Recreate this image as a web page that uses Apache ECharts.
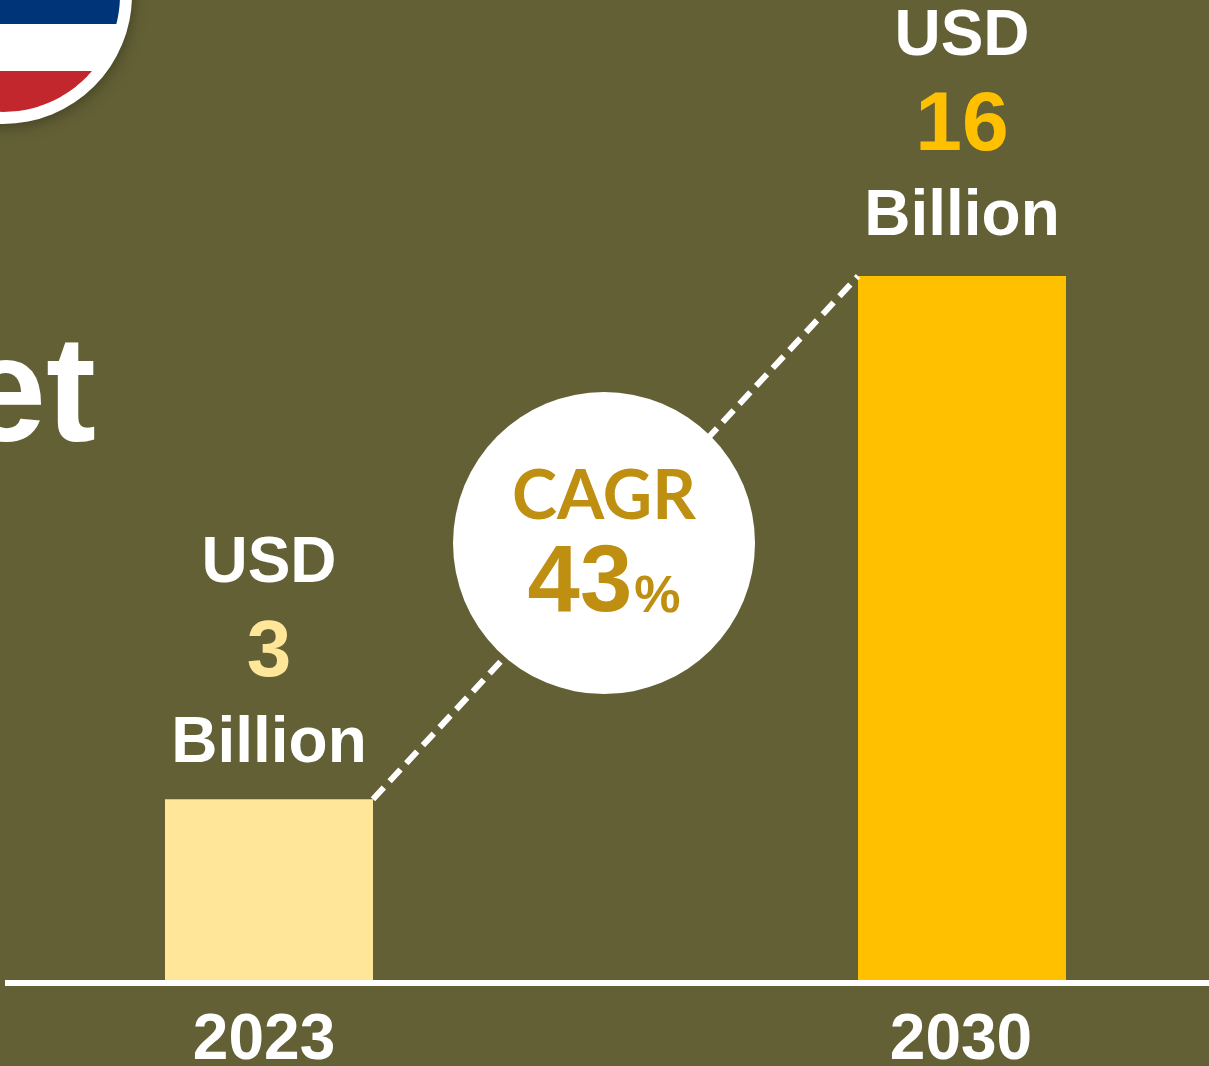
<!DOCTYPE html>
<html><head><meta charset="utf-8">
<style>html,body{margin:0;padding:0;background:#636036;overflow:hidden}#c{width:1209px;height:1066px}</style>
<script src="https://cdn.jsdelivr.net/npm/echarts@6/dist/echarts.min.js"></script>
</head><body><div id="c"></div>
<script>
const years = [2023, 2030];
const yearLabelSpots = [2022.95, 2029.99];
const shownValues = [3, 16];          // values printed on the chart (USD billion)
const barHeights = [4.16, 16];        // heights as drawn: the picture is not to scale
const barColors = ['#FFE699', '#FFC000'];
const connectorX = [2024.05, 2028.95];
const cagrText = ['CAGR', '43', '%'];
const cagrPoint = [2026.384, 9.957];
const titleFragment = 'Market';

const FONT = '"Liberation Sans", Arial, sans-serif';
const BG = '#636036', GOLD = '#BF8F12';

// circular-segment outline for the flag badge
function band(cx, cy, r, y0, y1) {
  const pts = [];
  const side = (y, s) => [cx + s * Math.sqrt(Math.max(r*r - (y-cy)*(y-cy), 0)), y];
  for (let i = 0; i <= 40; i++) pts.push(side(y0 + (y1-y0)*i/40, 1));
  for (let i = 40; i >= 0; i--) pts.push(side(y0 + (y1-y0)*i/40, -1));
  return pts;
}

const chart = echarts.init(document.getElementById('c'), null, {renderer:'canvas', width:1209, height:1066});
chart.setOption({
  animation:false,
  backgroundColor:BG,
  grid:{left:5, right:0, top:0, height:983, outerBoundsMode:'none'},
  xAxis:{type:'value', z:3, min:2020.3333, max:2032.495, splitLine:{show:false},
    axisLine:{show:true, onZero:false, lineStyle:{color:'#fff', width:6, cap:'butt'}},
    axisTick:{show:false},
    axisLabel:{customValues:yearLabelSpots, formatter:v=>String(Math.round(v)), color:'#fff', fontFamily:FONT, fontWeight:'bold', fontSize:64, margin:26, lineHeight:64, hideOverlap:false}},
  yAxis:{type:'value', min:0, max:22.25, show:false, splitLine:{show:false}},
  graphic:[
    {type:'text', z:5, style:{x:96, y:475, text:titleFragment, align:'right', verticalAlign:'bottom', fill:'#fff', font:'bold 150px '+FONT}},
    {type:'circle', z:6, shape:{cx:3, cy:-5, r:129}, style:{fill:'#fff', shadowBlur:14, shadowColor:'rgba(40,40,20,0.5)', shadowOffsetX:1, shadowOffsetY:3}},
    {type:'polygon', z:7, shape:{points:band(3,-5,117,-122,24)}, style:{fill:'#003478'}},
    {type:'polygon', z:7, shape:{points:band(3,-5,117,71,112)}, style:{fill:'#C1272D'}}
  ],
  series:[
    {type:'bar', barWidth:208, z:2,
     data:years.map((y,i)=>({value:[y,barHeights[i]], itemStyle:{color:barColors[i]},
       label:{show:true, position:'top', distance:i?20:16, align:'center',
         formatter:`{u|USD}\n{v|${shownValues[i]}}\n{u|Billion}`,
         rich:{
           u:{color:'#fff', fontFamily:FONT, fontWeight:'bold', fontSize:64, lineHeight:78, align:'center'},
           v:{color:barColors[i], fontFamily:FONT, fontWeight:'bold', fontSize:i?84:80, lineHeight:102, align:'center'}
         }}}))},
    {type:'line', z:2, symbol:'none', silent:true,
     data:connectorX.map((x,i)=>[x,barHeights[i]]),
     lineStyle:{color:'#fff', width:6, type:[16,8.5], cap:'butt'}},
    {type:'scatter', z:4, symbol:'circle', symbolSize:302, silent:true,
     itemStyle:{color:'#fff', opacity:1},
     data:[cagrPoint],
     label:{show:true, position:'inside', align:'center', verticalAlign:'middle', offset:[0,2],
       formatter:`{a|${cagrText[0]}}\n{b|${cagrText[1]}}{c|${cagrText[2]}}`,
       rich:{
         a:{color:GOLD, fontFamily:'Lato, sans-serif', fontWeight:'bold', fontSize:68, lineHeight:80},
         b:{color:GOLD, fontFamily:FONT, fontWeight:'bold', fontSize:94, lineHeight:96},
         c:{color:GOLD, fontFamily:FONT, fontWeight:'bold', fontSize:52, lineHeight:87, padding:[0,0,9,2], verticalAlign:'bottom'}
       }}}
  ]
});
</script></body></html>
